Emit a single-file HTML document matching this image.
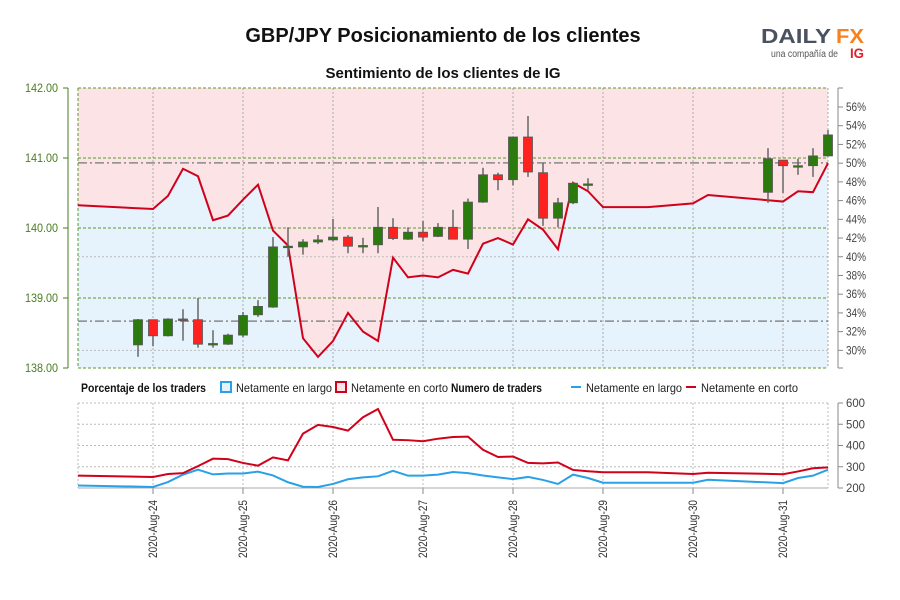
<!DOCTYPE html>
<html><head><meta charset="utf-8"><style>
body{margin:0;background:#fff;}
svg{display:block;font-family:"Liberation Sans",sans-serif;}
</style></head><body>
<svg id="chart" width="900" height="600" viewBox="0 0 900 600" xmlns="http://www.w3.org/2000/svg">
<text x="443" y="42" text-anchor="middle" font-weight="bold" font-size="20" fill="#111">GBP/JPY Posicionamiento de los clientes</text>
<text x="443" y="78" text-anchor="middle" font-weight="bold" font-size="15" fill="#111">Sentimiento de los clientes de IG</text>
<g>
<text x="761" y="43" font-weight="bold" font-size="20" fill="#4a5260" textLength="70" lengthAdjust="spacingAndGlyphs">DAILY</text>
<text x="836" y="43" font-weight="bold" font-size="20" fill="#f7821b" textLength="28" lengthAdjust="spacingAndGlyphs">FX</text>
<text x="771" y="57" font-size="10" fill="#555" textLength="67" lengthAdjust="spacingAndGlyphs">una compañía de</text>
<text x="850" y="58" font-weight="bold" font-size="14" fill="#e0202a" textLength="14" lengthAdjust="spacingAndGlyphs">IG</text>
</g>
<g id="main"></g>
<g id="lower"></g>
<g font-size="12">
<text x="81" y="392" font-weight="bold" fill="#111" textLength="125" lengthAdjust="spacingAndGlyphs">Porcentaje de los traders</text>
<rect x="221" y="382" width="10" height="10" fill="#e6f3fc" stroke="#2aa0e8" stroke-width="2"/>
<text x="236" y="392" fill="#222" textLength="96" lengthAdjust="spacingAndGlyphs">Netamente en largo</text>
<rect x="336" y="382" width="10" height="10" fill="#fce4e6" stroke="#d0021b" stroke-width="2"/>
<text x="351" y="392" fill="#222" textLength="97" lengthAdjust="spacingAndGlyphs">Netamente en corto</text>
<text x="451" y="392" font-weight="bold" fill="#111" textLength="91" lengthAdjust="spacingAndGlyphs">Numero de traders</text>
<line x1="571" y1="387" x2="581" y2="387" stroke="#2aa0e8" stroke-width="2"/>
<text x="586" y="392" fill="#222" textLength="96" lengthAdjust="spacingAndGlyphs">Netamente en largo</text>
<line x1="686" y1="387" x2="696" y2="387" stroke="#d0021b" stroke-width="2"/>
<text x="701" y="392" fill="#222" textLength="97" lengthAdjust="spacingAndGlyphs">Netamente en corto</text>
</g>
</svg>
<script>
const candleHours=[-4,0,4,8,12,16,20,24,28,32,36,40,44,48,52,56,60,64,68,72,76,80,84,88,92,96,100,104,108,112,116,164,168,172,176,180];
const opens=[138.33,138.69,138.46,138.70,138.69,138.35,138.34,138.47,138.76,138.87,139.73,139.73,139.80,139.83,139.87,139.75,139.76,140.01,139.84,139.94,139.88,140.01,139.84,140.37,140.76,140.69,141.30,140.79,140.14,140.36,140.63,140.51,140.97,140.89,140.89,141.03];
const closes=[138.69,138.46,138.70,138.68,138.34,138.35,138.47,138.75,138.88,139.73,139.74,139.80,139.83,139.87,139.74,139.75,140.01,139.85,139.94,139.87,140.01,139.84,140.37,140.76,140.69,141.30,140.80,140.14,140.36,140.64,140.63,140.99,140.89,140.89,141.03,141.33];
const highs=[138.70,138.69,138.71,138.84,139.00,138.54,138.49,138.80,138.97,139.87,140.01,139.84,139.90,140.13,139.90,139.86,140.30,140.14,140.01,140.10,140.07,140.26,140.42,140.86,140.79,141.30,141.60,140.93,140.43,140.66,140.71,141.14,140.97,140.99,141.14,141.40];
const lows=[138.16,138.31,138.45,138.39,138.29,138.29,138.33,138.44,138.73,138.86,139.59,139.62,139.77,139.81,139.64,139.64,139.64,139.83,139.83,139.81,139.87,139.84,139.70,140.36,140.54,140.61,140.73,140.03,140.01,140.34,140.54,140.36,140.50,140.76,140.73,141.02];
const seriesHours=[-20,0,4,8,12,16,20,24,28,32,36,40,44,48,52,56,60,64,68,72,76,80,84,88,92,96,100,104,108,112,116,120,132,144,148,168,172,176,180];
const pctLong=[45.5,45.1,46.5,49.4,48.6,43.9,44.4,46.1,47.7,42.8,41.2,31.3,29.3,31.0,34.0,32.0,31.0,39.9,37.8,38.0,37.8,38.6,38.2,41.4,42.0,41.3,44.0,42.9,40.8,47.9,47.0,45.3,45.3,45.7,46.6,45.9,47.0,46.9,50.0];
const tradersLong=[212,205,228,263,286,264,268,268,277,259,227,206,205,219,241,250,255,281,258,258,263,275,270,259,250,242,252,238,219,263,247,225,225,225,239,223,247,258,286];
const tradersShort=[258,252,266,270,303,338,336,318,305,344,330,456,497,487,470,533,572,427,425,420,432,440,442,380,346,348,318,316,320,285,279,274,274,266,272,265,278,293,297];
const priceTicks=[138,139,140,141,142];
const pctTicks=[30,32,34,36,38,40,42,44,46,48,50,52,54,56];
const countTicks=[200,300,400,500,600];
const dayLabels=["2020-Aug-24","2020-Aug-25","2020-Aug-26","2020-Aug-27","2020-Aug-28","2020-Aug-29","2020-Aug-30","2020-Aug-31"];
const refLines=[140.93,138.67];

const NS="http://www.w3.org/2000/svg";
const X0=78,X1=828;
const xH=h=>153+h*3.75;
const yP=p=>88+(142-p)*70;
const yPct=v=>107+(56-v)*9.36;
const yC=v=>488-(v-200)*85/400;
function mk(tag,attrs,parent){const e=document.createElementNS(NS,tag);for(const k in attrs)e.setAttribute(k,attrs[k]);parent.appendChild(e);return e;}
const main=document.getElementById('main'),lower=document.getElementById('lower');

let bg=mk('rect',{x:X0,y:88,width:X1-X0,height:280,fill:'#fce4e6'},main);


let pts=seriesHours.map((h,i)=>xH(h)+','+yPct(pctLong[i]));
let area=mk('polygon',{points:X0+',368 '+pts.join(' ')+' '+X1+',368',fill:'#e6f3fc'},main);


for(let d=0;d<dayLabels.length;d++){const x=xH(d*24);
 let g=mk('line',{x1:x,y1:88,x2:x,y2:368,stroke:'#aaa','stroke-dasharray':'2,2'},main);
 
 mk('line',{x1:x,y1:403,x2:x,y2:488,stroke:'#bbb','stroke-dasharray':'2,2'},lower);
 mk('line',{x1:x,y1:488,x2:x,y2:494,stroke:'#888'},lower);
 let t=mk('text',{x:0,y:0,transform:`translate(${x+4},558) rotate(-90)`,'font-size':'12',fill:'#333',textLength:'58',lengthAdjust:'spacingAndGlyphs'},lower);
 t.textContent=dayLabels[d];
 
}
[30,40].forEach(v=>mk('line',{x1:X0,y1:yPct(v),x2:X1,y2:yPct(v),stroke:'#bbb','stroke-dasharray':'2,2'},main));
priceTicks.forEach(p=>{const y=yP(p);
 mk('line',{x1:X0,y1:y,x2:X1,y2:y,stroke:'#5a9a2a','stroke-dasharray':'3,2'},main);
 mk('line',{x1:63,y1:y,x2:68,y2:y,stroke:'#4a7c20'},main);
 let t=mk('text',{x:58,y:y+4,'text-anchor':'end','font-size':'12',fill:'#4a7c20',textLength:'33',lengthAdjust:'spacingAndGlyphs'},main);t.textContent=p.toFixed(2);
 
});
mk('line',{x1:X0,y1:88,x2:X0,y2:368,stroke:'#5a9a2a','stroke-dasharray':'3,2'},main);
mk('line',{x1:X1,y1:88,x2:X1,y2:368,stroke:'#aaa','stroke-dasharray':'2,2'},main);
mk('line',{x1:68,y1:88,x2:68,y2:368,stroke:'#4a7c20'},main);
mk('line',{x1:838,y1:88,x2:838,y2:368,stroke:'#888'},main);
mk('line',{x1:838,y1:88,x2:843,y2:88,stroke:'#888'},main);
mk('line',{x1:838,y1:368,x2:843,y2:368,stroke:'#888'},main);
pctTicks.forEach(v=>{const y=yPct(v);
 mk('line',{x1:838,y1:y,x2:843,y2:y,stroke:'#888'},main);
 let t=mk('text',{x:846,y:y+4,'font-size':'12',fill:'#444',textLength:'20',lengthAdjust:'spacingAndGlyphs'},main);t.textContent=v+'%';
 
});
refLines.forEach(p=>{let l=mk('line',{x1:X0,y1:yP(p),x2:X1,y2:yP(p),stroke:'#888','stroke-width':1.5,'stroke-dasharray':'9,3,2,3'},main);
 });
let sl=mk('polyline',{points:pts.join(' '),fill:'none',stroke:'#d0021b','stroke-width':2},main);

candleHours.forEach((h,i)=>{const x=xH(h),o=opens[i],c=closes[i];
 const g=mk('g',{},main);
 
 mk('line',{x1:x,y1:yP(highs[i]),x2:x,y2:yP(lows[i]),stroke:'#666','stroke-width':1.5},g);
 const top=yP(Math.max(o,c)),bot=yP(Math.min(o,c));
 mk('rect',{x:x-4.5,y:top,width:9,height:Math.max(bot-top,1.5),fill:c>=o?'#2a7a0e':'#ff2020',stroke:'#555','stroke-width':0.8},g);
});
countTicks.forEach(v=>{const y=yC(v);
 mk('line',{x1:X0,y1:y,x2:X1,y2:y,stroke:v==200?'#aaa':'#bbb','stroke-dasharray':v==200?'':'2,2'},lower);
 mk('line',{x1:838,y1:y,x2:843,y2:y,stroke:'#888'},lower);
 let t=mk('text',{x:846,y:y+4,'font-size':'12',fill:'#444',textLength:'19',lengthAdjust:'spacingAndGlyphs'},lower);t.textContent=v;
 
});
mk('line',{x1:X0,y1:403,x2:X0,y2:488,stroke:'#bbb','stroke-dasharray':'2,2'},lower);
mk('line',{x1:X1,y1:403,x2:X1,y2:488,stroke:'#bbb','stroke-dasharray':'2,2'},lower);
mk('line',{x1:838,y1:403,x2:838,y2:488,stroke:'#888'},lower);
let ll=mk('polyline',{points:seriesHours.map((h,i)=>xH(h)+','+yC(tradersLong[i])).join(' '),fill:'none',stroke:'#2aa0e8','stroke-width':2},lower);

let ls=mk('polyline',{points:seriesHours.map((h,i)=>xH(h)+','+yC(tradersShort[i])).join(' '),fill:'none',stroke:'#d0021b','stroke-width':2},lower);

</script>
</body></html>
